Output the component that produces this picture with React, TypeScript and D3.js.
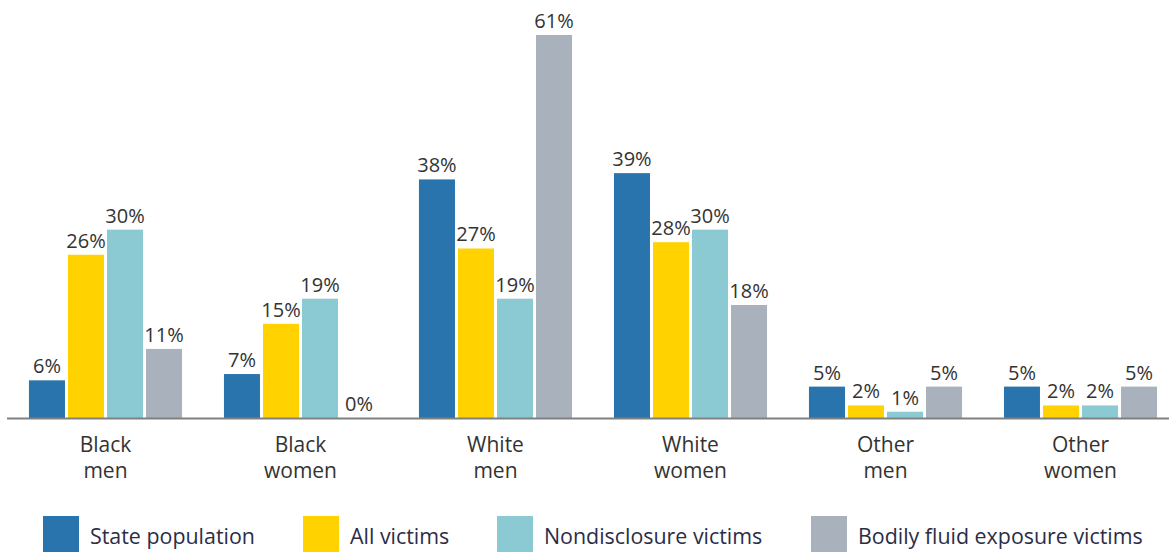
import * as d3 from 'd3'

const groups = ['Black men', 'Black women', 'White men', 'White women', 'Other men', 'Other women']
const seriesNames = ['State population', 'All victims', 'Nondisclosure victims', 'Bodily fluid exposure victims']
const seriesColors = ['#2a74ad', '#ffd200', '#8bcad3', '#a9b2bc']

const statePopulation = [6, 7, 38, 39, 5, 5]
const allVictims = [26, 15, 27, 28, 2, 2]
const nondisclosure = [30, 19, 19, 30, 1, 2]
const bodilyFluid = [11, 0, 61, 18, 5, 5]

const seriesValues = [statePopulation, allVictims, nondisclosure, bodilyFluid]

const legendX = [43, 303, 497, 811]

export default function App(){
  const width = 1169
  const height = 552
  const baseY = 418

  const x0 = d3.scaleBand<string>().domain(groups).range([8, 1178]).paddingInner(0.215).paddingOuter(0.1075)
  const x1 = d3.scaleBand<string>().domain(seriesNames).range([0, x0.bandwidth()]).paddingInner(0.077)
  const y = d3.scaleLinear().domain([0, 61]).range([baseY, 35])

  const font = '"Open Sans", "Noto Sans", sans-serif'

  return (
    <svg width={width} height={height} style={{ position: 'absolute', left: 0, top: 0, fontFamily: font }}>
      {groups.map((g, gi) => (
        <g key={g} transform={`translate(${x0(g)},0)`}>
          {seriesNames.map((s, si) => {
            const v = seriesValues[si][gi]
            const bx = x1(s)!
            return (
              <g key={s}>
                <rect x={bx} y={y(v)} width={x1.bandwidth()} height={baseY - y(v)} fill={seriesColors[si]} />
                <text x={bx + x1.bandwidth() / 2} y={y(v) - 7} textAnchor="middle" fontSize={20} fill="#333">{v}%</text>
              </g>
            )
          })}
          {g.split(' ').map((w, i) => (
            <text key={w} x={x0.bandwidth() / 2} y={452 + i * 26} textAnchor="middle" fontSize={21} fill="#333">{w}</text>
          ))}
        </g>
      ))}
      <line x1={7} x2={width} y1={baseY + 0.5} y2={baseY + 0.5} stroke="#808080" strokeWidth={2} />
      {seriesNames.map((s, i) => (
        <g key={s}>
          <rect x={legendX[i]} y={516} width={36} height={36} fill={seriesColors[i]} />
          <text x={legendX[i] + 47} y={544} fontSize={21.4} fill="#2b2d48">{s}</text>
        </g>
      ))}
    </svg>
  )
}
